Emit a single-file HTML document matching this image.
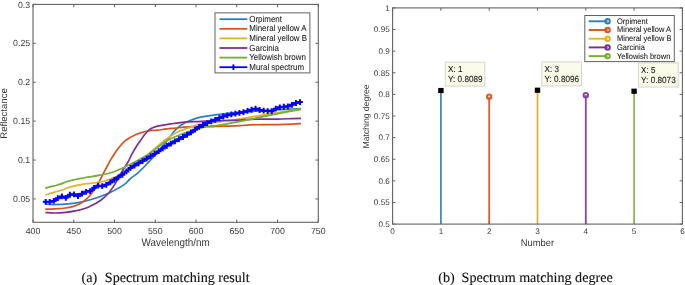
<!DOCTYPE html>
<html><head><meta charset="utf-8"><style>
html,body{margin:0;padding:0;background:#fff;}
body{width:685px;height:285px;position:relative;overflow:hidden;-webkit-font-smoothing:antialiased;font-family:"Liberation Sans",sans-serif;}
text{text-rendering:geometricPrecision;}
</style></head><body>
<svg width="685" height="285" viewBox="0 0 685 285" style="position:absolute;left:0;top:0;will-change:transform">
<rect width="685" height="285" fill="#fff"/>
<defs><clipPath id="cl"><rect x="33" y="4.4" width="285.3" height="217.9"/></clipPath></defs>
<g clip-path="url(#cl)" fill="none" stroke-width="1.7" stroke-linejoin="round" stroke-linecap="butt">
<path d="M45.3,204.1 C46.75,204.18 50.22,204.63 54,204.6 C57.78,204.57 63.32,204.37 68,203.9 C72.68,203.43 77.42,202.78 82.1,201.8 C86.78,200.82 91.42,199.55 96.1,198 C100.78,196.45 105.52,194.73 110.2,192.5 C114.88,190.27 120.9,186.85 124.2,184.6 C127.5,182.35 127.57,181.08 130,179 C132.43,176.92 135.88,174.72 138.8,172.1 C141.72,169.48 144.58,166.37 147.5,163.3 C150.42,160.23 153.37,157.05 156.3,153.7 C159.23,150.35 162.47,146.48 165.1,143.2 C167.73,139.92 170.32,136.27 172.1,134 C173.88,131.73 174.28,131.1 175.8,129.6 C177.32,128.1 179.03,126.43 181.2,125 C183.37,123.57 186.08,122.18 188.8,121 C191.52,119.82 194.58,118.72 197.5,117.9 C200.42,117.08 203.37,116.62 206.3,116.1 C209.23,115.58 212.17,115.17 215.1,114.8 C218.03,114.43 220.4,114.28 223.9,113.9 C227.4,113.52 231.73,112.88 236.1,112.5 C240.47,112.12 245.43,111.9 250.1,111.6 C254.77,111.3 259.42,111.02 264.1,110.7 C268.78,110.38 273.52,109.98 278.2,109.7 C282.88,109.42 288.4,109.18 292.2,109 C296,108.82 299.53,108.67 301,108.6" stroke="#2a7fc4"/>
<path d="M45.3,209.1 C46.85,209.05 51.23,208.98 54.6,208.8 C57.97,208.62 62.47,208.37 65.5,208 C68.53,207.63 70.37,207.32 72.8,206.6 C75.23,205.88 78.02,204.8 80.1,203.7 C82.18,202.6 83.78,201.23 85.3,200 C86.82,198.77 87.53,198.27 89.2,196.3 C90.87,194.33 93.58,190.72 95.3,188.2 C97.02,185.68 98.22,183.53 99.5,181.2 C100.78,178.87 101.6,176.9 103,174.2 C104.4,171.5 106.6,167.43 107.9,165 C109.2,162.57 109.43,161.9 110.8,159.6 C112.17,157.3 114.28,153.77 116.1,151.2 C117.92,148.63 120.05,146.03 121.7,144.2 C123.35,142.37 124.62,141.3 126,140.2 C127.38,139.1 128.67,138.4 130,137.6 C131.33,136.8 132.53,136.08 134,135.4 C135.47,134.72 136.55,134.23 138.8,133.5 C141.05,132.77 144.38,131.57 147.5,131 C150.62,130.43 154.37,130.45 157.5,130.1 C160.63,129.75 163.37,129.23 166.3,128.9 C169.23,128.57 172.17,128.38 175.1,128.1 C178.03,127.82 180.98,127.43 183.9,127.2 C186.82,126.97 188.87,126.78 192.6,126.7 C196.33,126.62 202.55,126.73 206.3,126.7 C210.05,126.67 212.17,126.58 215.1,126.5 C218.03,126.42 219.75,126.35 223.9,126.2 C228.05,126.05 235.63,125.82 240,125.6 C244.37,125.38 246.08,125.07 250.1,124.9 C254.12,124.73 259.42,124.63 264.1,124.6 C268.78,124.57 273.52,124.77 278.2,124.7 C282.88,124.63 288.4,124.4 292.2,124.2 C296,124 299.53,123.62 301,123.5" stroke="#d9531c"/>
<path d="M45.3,195 C46.17,194.73 48.75,193.93 50.5,193.4 C52.25,192.87 54.03,192.32 55.8,191.8 C57.57,191.28 59.35,190.87 61.1,190.3 C62.85,189.73 64.55,189.02 66.3,188.4 C68.05,187.78 69.85,187.1 71.6,186.6 C73.35,186.1 75.05,185.77 76.8,185.4 C78.55,185.03 80.23,184.7 82.1,184.4 C83.97,184.1 85.67,183.9 88,183.6 C90.33,183.3 93.43,183 96.1,182.6 C98.77,182.2 101.02,182.03 104,181.2 C106.98,180.37 111.17,178.83 114,177.6 C116.83,176.37 118.67,175.15 121,173.8 C123.33,172.45 124.95,171.5 128,169.5 C131.05,167.5 136.3,164.05 139.3,161.8 C142.3,159.55 143.68,157.97 146,156 C148.32,154.03 150.55,152.25 153.2,150 C155.85,147.75 158.98,144.83 161.9,142.5 C164.82,140.17 167.77,137.9 170.7,136 C173.63,134.1 176.58,132.43 179.5,131.1 C182.42,129.77 185.2,129.03 188.2,128 C191.2,126.97 194.48,125.67 197.5,124.9 C200.52,124.13 203.37,123.83 206.3,123.4 C209.23,122.97 212.17,122.67 215.1,122.3 C218.03,121.93 219.75,121.77 223.9,121.2 C228.05,120.63 235.63,119.57 240,118.9 C244.37,118.23 246.08,117.88 250.1,117.2 C254.12,116.52 259.42,115.58 264.1,114.8 C268.78,114.02 273.52,113.23 278.2,112.5 C282.88,111.77 288.4,110.95 292.2,110.4 C296,109.85 299.53,109.4 301,109.2" stroke="#e6b02a"/>
<path d="M45.3,212.5 C46.85,212.58 51.23,213.02 54.6,213 C57.97,212.98 61.85,212.8 65.5,212.4 C69.15,212 73.45,211.2 76.5,210.6 C79.55,210 81.55,209.52 83.8,208.8 C86.05,208.08 88.05,207.17 90,206.3 C91.95,205.43 93.65,204.65 95.5,203.6 C97.35,202.55 98.93,201.73 101.1,200 C103.27,198.27 106.25,195.77 108.5,193.2 C110.75,190.63 112.77,187.47 114.6,184.6 C116.43,181.73 118.02,178.6 119.5,176 C120.98,173.4 122.08,171.33 123.5,169 C124.92,166.67 126.55,164.57 128,162 C129.45,159.43 130.78,156.23 132.2,153.6 C133.62,150.97 135.07,148.47 136.5,146.2 C137.93,143.93 139.47,141.9 140.8,140 C142.13,138.1 143.17,136.43 144.5,134.8 C145.83,133.17 147.35,131.4 148.8,130.2 C150.25,129 151.75,128.27 153.2,127.6 C154.65,126.93 155.6,126.67 157.5,126.2 C159.4,125.73 162.43,125.18 164.6,124.8 C166.77,124.42 167.93,124.27 170.5,123.9 C173.07,123.53 176.95,122.95 180,122.6 C183.05,122.25 185.88,121.97 188.8,121.8 C191.72,121.63 194.58,121.7 197.5,121.6 C200.42,121.5 203.37,121.3 206.3,121.2 C209.23,121.1 212.17,121.12 215.1,121 C218.03,120.88 219.75,120.65 223.9,120.5 C228.05,120.35 235.63,120.3 240,120.1 C244.37,119.9 246.08,119.47 250.1,119.3 C254.12,119.13 259.42,119.13 264.1,119.1 C268.78,119.07 273.52,119.18 278.2,119.1 C282.88,119.02 288.4,118.73 292.2,118.6 C296,118.47 299.53,118.35 301,118.3" stroke="#7f2f8f"/>
<path d="M45.3,188.2 C46.17,187.93 48.75,187.05 50.5,186.6 C52.25,186.15 54.03,185.95 55.8,185.5 C57.57,185.05 59.35,184.52 61.1,183.9 C62.85,183.28 64.55,182.4 66.3,181.8 C68.05,181.2 69.85,180.77 71.6,180.3 C73.35,179.83 75.05,179.35 76.8,179 C78.55,178.65 80.23,178.52 82.1,178.2 C83.97,177.88 85.02,177.6 88,177.1 C90.98,176.6 95.67,176.08 100,175.2 C104.33,174.32 109,173.57 114,171.8 C119,170.03 124.98,167.1 130,164.6 C135.02,162.1 140.6,158.85 144.1,156.8 C147.6,154.75 148.65,153.93 151,152.3 C153.35,150.67 155.85,148.75 158.2,147 C160.55,145.25 162.8,143.27 165.1,141.8 C167.4,140.33 169.6,139.33 172,138.2 C174.4,137.07 176.8,136.05 179.5,135 C182.2,133.95 185.2,132.88 188.2,131.9 C191.2,130.92 194.48,129.97 197.5,129.1 C200.52,128.23 203.37,127.28 206.3,126.7 C209.23,126.12 212.17,125.98 215.1,125.6 C218.03,125.22 219.75,125.1 223.9,124.4 C228.05,123.7 235.63,122.25 240,121.4 C244.37,120.55 246.08,120.13 250.1,119.3 C254.12,118.47 259.42,117.35 264.1,116.4 C268.78,115.45 273.52,114.52 278.2,113.6 C282.88,112.68 288.4,111.6 292.2,110.9 C296,110.2 299.53,109.65 301,109.4" stroke="#76ad33"/>
<path d="M45.7,201.8 L49.74,201.8 L53.77,200.9 L57.81,198.2 L61.85,196.47 L65.88,197.8 L69.92,194.74 L73.96,194.35 L77.99,196.02 L82.03,193.66 L86.07,191.86 L90.1,191.07 L94.14,187.84 L98.17,185.68 L102.21,186.18 L106.25,184.78 L110.28,182.4 L114.32,179.85 L118.36,177.28 L122.39,174.83 L126.43,171.4 L130.47,167.89 L134.5,165.62 L138.54,163.34 L142.58,161.06 L146.61,158.65 L150.65,156.16 L154.69,153.67 L158.72,151.15 L162.76,148.46 L166.8,145.82 L170.83,143.58 L174.87,141.33 L178.9,139.17 L182.94,137.01 L186.98,134.73 L191.01,132.41 L195.05,129.65 L199.09,126.92 L203.12,124.98 L207.16,123.06 L211.2,121.29 L215.23,119.8 L219.27,118.07 L223.31,116.51 L227.34,115.32 L231.38,114.38 L235.42,113.64 L239.45,112.93 L243.49,112.18 L247.53,110.97 L251.56,109.76 L255.6,108.67 L259.63,110.01 L263.67,110.7 L267.71,111.06 L271.74,111.17 L275.78,108.71 L279.82,107.29 L283.85,106.75 L287.89,106.34 L291.93,104.84 L295.96,103.01 L300,102.11" stroke="#0000ff" stroke-width="1.8"/>
<path d="M42.8,201.8H48.6M45.7,198.9V204.7M46.84,201.8H52.64M49.74,198.9V204.7M50.87,200.9H56.67M53.77,198V203.8M54.91,198.2H60.71M57.81,195.3V201.1M58.95,196.47H64.75M61.85,193.57V199.37M62.98,197.8H68.78M65.88,194.9V200.7M67.02,194.74H72.82M69.92,191.84V197.64M71.06,194.35H76.86M73.96,191.45V197.25M75.09,196.02H80.89M77.99,193.12V198.92M79.13,193.66H84.93M82.03,190.76V196.56M83.17,191.86H88.97M86.07,188.96V194.76M87.2,191.07H93M90.1,188.17V193.97M91.24,187.84H97.04M94.14,184.94V190.74M95.27,185.68H101.07M98.17,182.78V188.58M99.31,186.18H105.11M102.21,183.28V189.08M103.35,184.78H109.15M106.25,181.88V187.68M107.38,182.4H113.18M110.28,179.5V185.3M111.42,179.85H117.22M114.32,176.95V182.75M115.46,177.28H121.26M118.36,174.38V180.18M119.49,174.83H125.29M122.39,171.93V177.73M123.53,171.4H129.33M126.43,168.5V174.3M127.57,167.89H133.37M130.47,164.99V170.79M131.6,165.62H137.4M134.5,162.72V168.52M135.64,163.34H141.44M138.54,160.44V166.24M139.68,161.06H145.48M142.58,158.16V163.96M143.71,158.65H149.51M146.61,155.75V161.55M147.75,156.16H153.55M150.65,153.26V159.06M151.79,153.67H157.59M154.69,150.77V156.57M155.82,151.15H161.62M158.72,148.25V154.05M159.86,148.46H165.66M162.76,145.56V151.36M163.9,145.82H169.7M166.8,142.92V148.72M167.93,143.58H173.73M170.83,140.68V146.48M171.97,141.33H177.77M174.87,138.43V144.23M176,139.17H181.8M178.9,136.27V142.07M180.04,137.01H185.84M182.94,134.11V139.91M184.08,134.73H189.88M186.98,131.83V137.63M188.11,132.41H193.91M191.01,129.51V135.31M192.15,129.65H197.95M195.05,126.75V132.55M196.19,126.92H201.99M199.09,124.02V129.82M200.22,124.98H206.02M203.12,122.08V127.88M204.26,123.06H210.06M207.16,120.16V125.96M208.3,121.29H214.1M211.2,118.39V124.19M212.33,119.8H218.13M215.23,116.9V122.7M216.37,118.07H222.17M219.27,115.17V120.97M220.41,116.51H226.21M223.31,113.61V119.41M224.44,115.32H230.24M227.34,112.42V118.22M228.48,114.38H234.28M231.38,111.48V117.28M232.52,113.64H238.32M235.42,110.74V116.54M236.55,112.93H242.35M239.45,110.03V115.83M240.59,112.18H246.39M243.49,109.28V115.08M244.63,110.97H250.43M247.53,108.07V113.87M248.66,109.76H254.46M251.56,106.86V112.66M252.7,108.67H258.5M255.6,105.77V111.57M256.73,110.01H262.53M259.63,107.11V112.91M260.77,110.7H266.57M263.67,107.8V113.6M264.81,111.06H270.61M267.71,108.16V113.96M268.84,111.17H274.64M271.74,108.27V114.07M272.88,108.71H278.68M275.78,105.81V111.61M276.92,107.29H282.72M279.82,104.39V110.19M280.95,106.75H286.75M283.85,103.85V109.65M284.99,106.34H290.79M287.89,103.44V109.24M289.03,104.84H294.83M291.93,101.94V107.74M293.06,103.01H298.86M295.96,100.11V105.91M297.1,102.11H302.9M300,99.21V105.01" stroke="#0000ff" stroke-width="2.0" stroke-linecap="butt"/>
</g>
<path d="M33,222.3V219.5M33,4.4V7.2M73.76,222.3V219.5M73.76,4.4V7.2M114.51,222.3V219.5M114.51,4.4V7.2M155.27,222.3V219.5M155.27,4.4V7.2M196.03,222.3V219.5M196.03,4.4V7.2M236.79,222.3V219.5M236.79,4.4V7.2M277.54,222.3V219.5M277.54,4.4V7.2M318.3,222.3V219.5M318.3,4.4V7.2M33,198.95H35.8M318.3,198.95H315.5M33,160.04H35.8M318.3,160.04H315.5M33,121.13H35.8M318.3,121.13H315.5M33,82.22H35.8M318.3,82.22H315.5M33,43.31H35.8M318.3,43.31H315.5M33,4.4H35.8M318.3,4.4H315.5" stroke="#626262" stroke-width="1" fill="none"/>
<rect x="33" y="4.4" width="285.3" height="217.9" fill="none" stroke="#626262" stroke-width="1.1"/>
<text x="33" y="233.8" font-size="8.8" text-anchor="middle" fill="#3a3a3a" font-family='"Liberation Sans", sans-serif' >400</text>
<text x="73.76" y="233.8" font-size="8.8" text-anchor="middle" fill="#3a3a3a" font-family='"Liberation Sans", sans-serif' >450</text>
<text x="114.51" y="233.8" font-size="8.8" text-anchor="middle" fill="#3a3a3a" font-family='"Liberation Sans", sans-serif' >500</text>
<text x="155.27" y="233.8" font-size="8.8" text-anchor="middle" fill="#3a3a3a" font-family='"Liberation Sans", sans-serif' >550</text>
<text x="196.03" y="233.8" font-size="8.8" text-anchor="middle" fill="#3a3a3a" font-family='"Liberation Sans", sans-serif' >600</text>
<text x="236.79" y="233.8" font-size="8.8" text-anchor="middle" fill="#3a3a3a" font-family='"Liberation Sans", sans-serif' >650</text>
<text x="277.54" y="233.8" font-size="8.8" text-anchor="middle" fill="#3a3a3a" font-family='"Liberation Sans", sans-serif' >700</text>
<text x="318.3" y="233.8" font-size="8.8" text-anchor="middle" fill="#3a3a3a" font-family='"Liberation Sans", sans-serif' >750</text>
<text x="30.2" y="202.05" font-size="8.8" text-anchor="end" fill="#3a3a3a" font-family='"Liberation Sans", sans-serif' >0.05</text>
<text x="30.2" y="163.14" font-size="8.8" text-anchor="end" fill="#3a3a3a" font-family='"Liberation Sans", sans-serif' >0.1</text>
<text x="30.2" y="124.23" font-size="8.8" text-anchor="end" fill="#3a3a3a" font-family='"Liberation Sans", sans-serif' >0.15</text>
<text x="30.2" y="85.32" font-size="8.8" text-anchor="end" fill="#3a3a3a" font-family='"Liberation Sans", sans-serif' >0.2</text>
<text x="30.2" y="46.41" font-size="8.8" text-anchor="end" fill="#3a3a3a" font-family='"Liberation Sans", sans-serif' >0.25</text>
<text x="30.2" y="7.5" font-size="8.8" text-anchor="end" fill="#3a3a3a" font-family='"Liberation Sans", sans-serif' >0.3</text>
<text x="0" y="0" transform="translate(175.65,246) scale(1,1.1)" font-size="9.9" text-anchor="middle" fill="#3a3a3a" font-family='"Liberation Sans", sans-serif' >Wavelength/nm</text>
<text x="0" y="0" font-size="9.55" text-anchor="middle" fill="#3a3a3a" font-family='"Liberation Sans", sans-serif' transform="translate(7.3,113.5) rotate(-90)">Reflectance</text>
<rect x="215" y="12.9" width="94.9" height="60" fill="#fff" stroke="#626262" stroke-width="1"/>
<path d="M219.5,19.2H247.3" stroke="#2a7fc4" stroke-width="1.8"/>
<text x="0" y="0" transform="translate(249.3,21.8) scale(1,1.1)" font-size="7.95" text-anchor="start" fill="#222" font-family='"Liberation Sans", sans-serif'  stroke="#222" stroke-width="0.07">Orpiment</text>
<path d="M219.5,28.8H247.3" stroke="#d9531c" stroke-width="1.8"/>
<text x="0" y="0" transform="translate(249.3,31.4) scale(1,1.1)" font-size="7.95" text-anchor="start" fill="#222" font-family='"Liberation Sans", sans-serif'  stroke="#222" stroke-width="0.07">Mineral yellow A</text>
<path d="M219.5,38.4H247.3" stroke="#e6b02a" stroke-width="1.8"/>
<text x="0" y="0" transform="translate(249.3,41) scale(1,1.1)" font-size="7.95" text-anchor="start" fill="#222" font-family='"Liberation Sans", sans-serif'  stroke="#222" stroke-width="0.07">Mineral yellow B</text>
<path d="M219.5,48H247.3" stroke="#7f2f8f" stroke-width="1.8"/>
<text x="0" y="0" transform="translate(249.3,50.6) scale(1,1.1)" font-size="7.95" text-anchor="start" fill="#222" font-family='"Liberation Sans", sans-serif'  stroke="#222" stroke-width="0.07">Garcinia</text>
<path d="M219.5,57.6H247.3" stroke="#76ad33" stroke-width="1.8"/>
<text x="0" y="0" transform="translate(249.3,60.2) scale(1,1.1)" font-size="7.95" text-anchor="start" fill="#222" font-family='"Liberation Sans", sans-serif'  stroke="#222" stroke-width="0.07">Yellowish brown</text>
<path d="M219.5,67.2H247.3" stroke="#0000ff" stroke-width="1.8"/>
<path d="M233.4,64.4V70" stroke="#0000ff" stroke-width="1.9"/>
<text x="0" y="0" transform="translate(249.3,69.8) scale(1,1.1)" font-size="7.95" text-anchor="start" fill="#222" font-family='"Liberation Sans", sans-serif'  stroke="#222" stroke-width="0.07">Mural spectrum</text>
<path d="M392.6,224.1V221.3M392.6,7.9V10.7M440.9,224.1V221.3M440.9,7.9V10.7M489.2,224.1V221.3M489.2,7.9V10.7M537.5,224.1V221.3M537.5,7.9V10.7M585.8,224.1V221.3M585.8,7.9V10.7M634.1,224.1V221.3M634.1,7.9V10.7M682.4,224.1V221.3M682.4,7.9V10.7M392.6,224.1H395.4M682.4,224.1H679.6M392.6,202.48H395.4M682.4,202.48H679.6M392.6,180.86H395.4M682.4,180.86H679.6M392.6,159.24H395.4M682.4,159.24H679.6M392.6,137.62H395.4M682.4,137.62H679.6M392.6,116H395.4M682.4,116H679.6M392.6,94.38H395.4M682.4,94.38H679.6M392.6,72.76H395.4M682.4,72.76H679.6M392.6,51.14H395.4M682.4,51.14H679.6M392.6,29.52H395.4M682.4,29.52H679.6M392.6,7.9H395.4M682.4,7.9H679.6" stroke="#626262" stroke-width="1" fill="none"/>
<path d="M440.9,224.1V90.53" stroke="#4a88c9" stroke-width="1.8"/>
<path d="M489.2,224.1V96.76" stroke="#dc5c2a" stroke-width="1.8"/>
<circle cx="489.2" cy="96.76" r="2.2" fill="none" stroke="#dc5c2a" stroke-width="2"/>
<path d="M537.5,224.1V90.23" stroke="#e0b038" stroke-width="1.8"/>
<path d="M585.8,224.1V95.16" stroke="#8a45a5" stroke-width="1.8"/>
<circle cx="585.8" cy="95.16" r="2.2" fill="none" stroke="#8a45a5" stroke-width="2"/>
<path d="M634.1,224.1V91.22" stroke="#86bd4c" stroke-width="1.8"/>
<rect x="392.6" y="7.9" width="289.8" height="216.2" fill="none" stroke="#626262" stroke-width="1.1"/>
<text x="392.6" y="234" font-size="8.15" text-anchor="middle" fill="#3a3a3a" font-family='"Liberation Sans", sans-serif' >0</text>
<text x="440.9" y="234" font-size="8.15" text-anchor="middle" fill="#3a3a3a" font-family='"Liberation Sans", sans-serif' >1</text>
<text x="489.2" y="234" font-size="8.15" text-anchor="middle" fill="#3a3a3a" font-family='"Liberation Sans", sans-serif' >2</text>
<text x="537.5" y="234" font-size="8.15" text-anchor="middle" fill="#3a3a3a" font-family='"Liberation Sans", sans-serif' >3</text>
<text x="585.8" y="234" font-size="8.15" text-anchor="middle" fill="#3a3a3a" font-family='"Liberation Sans", sans-serif' >4</text>
<text x="634.1" y="234" font-size="8.15" text-anchor="middle" fill="#3a3a3a" font-family='"Liberation Sans", sans-serif' >5</text>
<text x="682.4" y="234" font-size="8.15" text-anchor="middle" fill="#3a3a3a" font-family='"Liberation Sans", sans-serif' >6</text>
<text x="389.7" y="226.9" font-size="8.15" text-anchor="end" fill="#3a3a3a" font-family='"Liberation Sans", sans-serif' >0.5</text>
<text x="389.7" y="205.28" font-size="8.15" text-anchor="end" fill="#3a3a3a" font-family='"Liberation Sans", sans-serif' >0.55</text>
<text x="389.7" y="183.66" font-size="8.15" text-anchor="end" fill="#3a3a3a" font-family='"Liberation Sans", sans-serif' >0.6</text>
<text x="389.7" y="162.04" font-size="8.15" text-anchor="end" fill="#3a3a3a" font-family='"Liberation Sans", sans-serif' >0.65</text>
<text x="389.7" y="140.42" font-size="8.15" text-anchor="end" fill="#3a3a3a" font-family='"Liberation Sans", sans-serif' >0.7</text>
<text x="389.7" y="118.8" font-size="8.15" text-anchor="end" fill="#3a3a3a" font-family='"Liberation Sans", sans-serif' >0.75</text>
<text x="389.7" y="97.18" font-size="8.15" text-anchor="end" fill="#3a3a3a" font-family='"Liberation Sans", sans-serif' >0.8</text>
<text x="389.7" y="75.56" font-size="8.15" text-anchor="end" fill="#3a3a3a" font-family='"Liberation Sans", sans-serif' >0.85</text>
<text x="389.7" y="53.94" font-size="8.15" text-anchor="end" fill="#3a3a3a" font-family='"Liberation Sans", sans-serif' >0.9</text>
<text x="389.7" y="32.32" font-size="8.15" text-anchor="end" fill="#3a3a3a" font-family='"Liberation Sans", sans-serif' >0.95</text>
<text x="389.7" y="10.7" font-size="8.15" text-anchor="end" fill="#3a3a3a" font-family='"Liberation Sans", sans-serif' >1</text>
<text x="0" y="0" transform="translate(537.5,245.7) scale(1,1.05)" font-size="9.4" text-anchor="middle" fill="#3a3a3a" font-family='"Liberation Sans", sans-serif' >Number</text>
<text x="0" y="0" font-size="8.6" text-anchor="middle" fill="#3a3a3a" font-family='"Liberation Sans", sans-serif' transform="translate(369.2,116.4) rotate(-90)">Matching degree</text>
<rect x="438.2" y="87.93" width="5.4" height="5.2" fill="#000"/>
<rect x="445.3" y="62.2" width="39.6" height="23.9" fill="#fbfbe9" stroke="#d6d6cc" stroke-width="1"/>
<text x="0" y="0" transform="translate(448,71.8) scale(1,1.08)" font-size="8.1" text-anchor="start" fill="#222" font-family='"Liberation Sans", sans-serif'  stroke="#222" stroke-width="0.1">X: 1</text>
<text x="0" y="0" transform="translate(448,81.7) scale(1,1.08)" font-size="8.2" text-anchor="start" fill="#222" font-family='"Liberation Sans", sans-serif'  stroke="#222" stroke-width="0.1">Y: 0.8089</text>
<rect x="534.8" y="87.63" width="5.4" height="5.2" fill="#000"/>
<rect x="541.8" y="61.9" width="39.7" height="24" fill="#fbfbe9" stroke="#d6d6cc" stroke-width="1"/>
<text x="0" y="0" transform="translate(544.5,71.8) scale(1,1.08)" font-size="8.1" text-anchor="start" fill="#222" font-family='"Liberation Sans", sans-serif'  stroke="#222" stroke-width="0.1">X: 3</text>
<text x="0" y="0" transform="translate(544.5,81.7) scale(1,1.08)" font-size="8.2" text-anchor="start" fill="#222" font-family='"Liberation Sans", sans-serif'  stroke="#222" stroke-width="0.1">Y: 0.8096</text>
<rect x="631.4" y="88.62" width="5.4" height="5.2" fill="#000"/>
<rect x="638.4" y="62.9" width="39.8" height="24.1" fill="#fbfbe9" stroke="#d6d6cc" stroke-width="1"/>
<text x="0" y="0" transform="translate(641.1,72.9) scale(1,1.08)" font-size="8.1" text-anchor="start" fill="#222" font-family='"Liberation Sans", sans-serif'  stroke="#222" stroke-width="0.1">X: 5</text>
<text x="0" y="0" transform="translate(641.1,82.8) scale(1,1.08)" font-size="8.2" text-anchor="start" fill="#222" font-family='"Liberation Sans", sans-serif'  stroke="#222" stroke-width="0.1">Y: 0.8073</text>
<rect x="584.8" y="15.5" width="89.5" height="46.1" fill="#fff" stroke="#626262" stroke-width="1"/>
<path d="M588.7,21.3H607.6" stroke="#2a7fc4" stroke-width="1.9"/>
<circle cx="607.6" cy="21.3" r="2.2" fill="none" stroke="#2a7fc4" stroke-width="2"/>
<text x="0" y="0" transform="translate(617,23.75) scale(1,1.09)" font-size="7.47" text-anchor="start" fill="#222" font-family='"Liberation Sans", sans-serif'  stroke="#222" stroke-width="0.08">Orpiment</text>
<path d="M588.7,30H607.6" stroke="#d9531c" stroke-width="1.9"/>
<circle cx="607.6" cy="30" r="2.2" fill="none" stroke="#d9531c" stroke-width="2"/>
<text x="0" y="0" transform="translate(617,32.45) scale(1,1.09)" font-size="7.47" text-anchor="start" fill="#222" font-family='"Liberation Sans", sans-serif'  stroke="#222" stroke-width="0.08">Mineral yellow A</text>
<path d="M588.7,38.7H607.6" stroke="#e6b02a" stroke-width="1.9"/>
<circle cx="607.6" cy="38.7" r="2.2" fill="none" stroke="#e6b02a" stroke-width="2"/>
<text x="0" y="0" transform="translate(617,41.15) scale(1,1.09)" font-size="7.47" text-anchor="start" fill="#222" font-family='"Liberation Sans", sans-serif'  stroke="#222" stroke-width="0.08">Mineral yellow B</text>
<path d="M588.7,47.4H607.6" stroke="#7f2f8f" stroke-width="1.9"/>
<circle cx="607.6" cy="47.4" r="2.2" fill="none" stroke="#7f2f8f" stroke-width="2"/>
<text x="0" y="0" transform="translate(617,49.85) scale(1,1.09)" font-size="7.47" text-anchor="start" fill="#222" font-family='"Liberation Sans", sans-serif'  stroke="#222" stroke-width="0.08">Garcinia</text>
<path d="M588.7,56.1H607.6" stroke="#76ad33" stroke-width="1.9"/>
<circle cx="607.6" cy="56.1" r="2.2" fill="none" stroke="#76ad33" stroke-width="2"/>
<text x="0" y="0" transform="translate(617,58.55) scale(1,1.09)" font-size="7.47" text-anchor="start" fill="#222" font-family='"Liberation Sans", sans-serif'  stroke="#222" stroke-width="0.08">Yellowish brown</text>
<text x="81.6" y="281.6" font-size="14.1" text-anchor="start" fill="#111" font-family='"Liberation Serif", serif'  stroke="#111" stroke-width="0.12">(a)</text>
<text x="104.8" y="281.6" font-size="14.1" text-anchor="start" fill="#111" font-family='"Liberation Serif", serif'  stroke="#111" stroke-width="0.12">Spectrum matching result</text>
<text x="438.2" y="281.6" font-size="14.1" text-anchor="start" fill="#111" font-family='"Liberation Serif", serif'  stroke="#111" stroke-width="0.12">(b)</text>
<text x="461.6" y="281.6" font-size="14.1" text-anchor="start" fill="#111" font-family='"Liberation Serif", serif'  stroke="#111" stroke-width="0.12">Spectrum matching degree</text>
</svg>
</body></html>
